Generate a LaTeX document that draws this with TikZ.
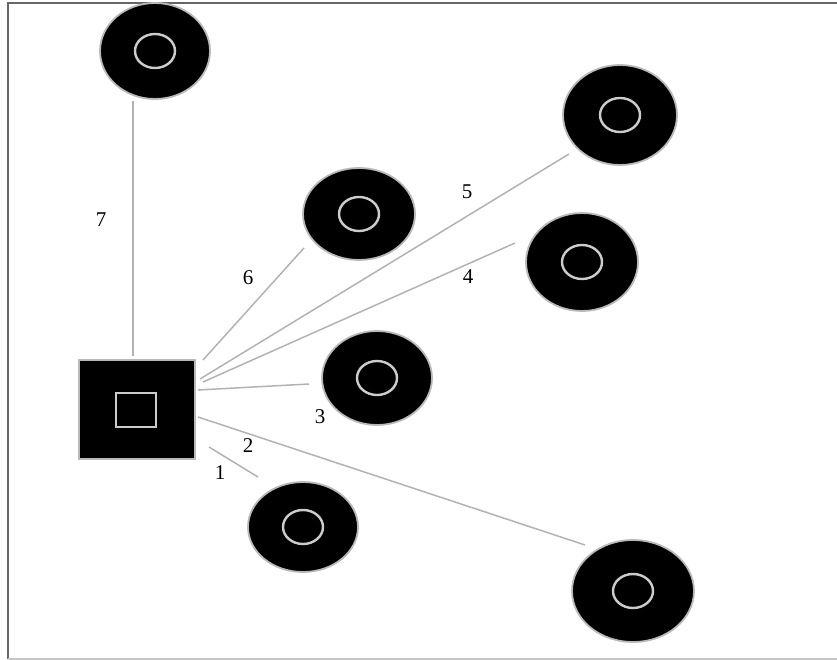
\documentclass[tikz,border=0pt]{standalone}
\usepackage{fontspec}
\setmainfont{Liberation Serif}
\begin{document}
\begin{tikzpicture}[x=1pt,y=-1pt,
  disc/.style={draw=gray!55,line width=1.8pt,fill=black},
  ring/.style={draw=gray!40,line width=2.4pt},
  wire/.style={draw=gray!60,line width=1.5pt},
  lbl/.style={font=\fontsize{21}{24}\selectfont,inner sep=0pt},
  frameline/.style={line width=2pt}]
\useasboundingbox (0,0) rectangle (837,660);
% frame
\draw[frameline,draw=gray!80!black] (7.5,659) -- (7.5,3) -- (837,3);
\draw[frameline,draw=gray!45] (7.5,659) -- (837,659);
% discs
\newcommand{\mydisc}[6]{%
  \path[disc] (#2,#3) ellipse [x radius=#4,y radius=#5];
  \draw[ring] (#2,#3) ellipse [x radius=20,y radius=17];
  \coordinate (#1) at (#2,#3);}
\mydisc{c7}{155}{51}{55}{48}{}
\mydisc{c6}{359}{214}{56}{46}{}
\mydisc{c3}{377}{378}{55}{47}{}
\mydisc{c5}{620}{115}{57}{50}{}
\mydisc{c4}{582}{262}{56}{49}{}
\mydisc{c2}{633}{591}{61}{51}{}
\mydisc{c1}{303}{527}{55}{45}{}
% square
\node[draw=gray!55,line width=1.8pt,fill=black,minimum width=116pt,minimum height=99pt,inner sep=0pt] (sq) at (137,409.5) {};
\node[draw=gray!40,line width=2.4pt,minimum width=40pt,minimum height=34pt,inner sep=0pt] (sqin) at (136,410) {};
% connector end points
\coordinate (s7) at (133,356);   \coordinate (e7) at (133,101);
\coordinate (s6) at (203,360);   \coordinate (e6) at (304,248);
\coordinate (s5) at (200,379);   \coordinate (e5) at (569,154);
\coordinate (s4) at (203,382);   \coordinate (e4) at (515,243);
\coordinate (s3) at (198,390);   \coordinate (e3) at (309,384);
\coordinate (s2) at (198,417);   \coordinate (e2) at (585,545);
\coordinate (s1) at (209,447);   \coordinate (e1) at (258,477);
\foreach \i in {1,...,7} {\draw[wire] (s\i) -- (e\i);}
% labels
\node[lbl] (l7) at (101,220) {7};
\node[lbl] (l6) at (248,278) {6};
\node[lbl] (l5) at (467,192) {5};
\node[lbl] (l4) at (468,277) {4};
\node[lbl] (l3) at (320,417) {3};
\node[lbl] (l2) at (248,446) {2};
\node[lbl] (l1) at (220,473) {1};
\end{tikzpicture}
\end{document}
